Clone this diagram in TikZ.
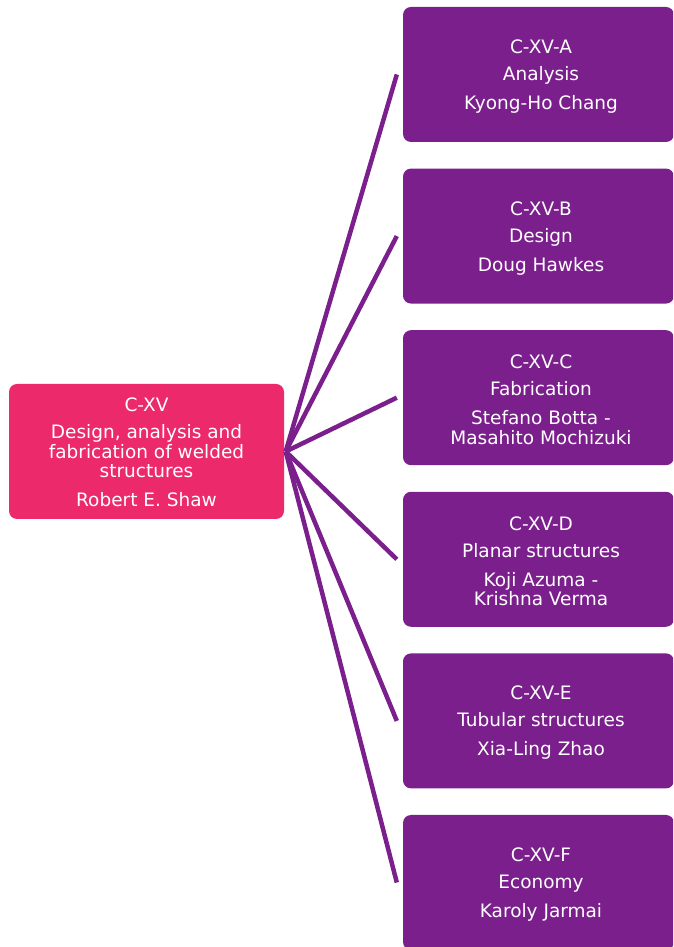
\documentclass[tikz,border=0pt]{standalone}
\usepackage{fontspec}
\setmainfont{DejaVu Sans}
\definecolor{pinkc}{RGB}{236,41,107}
\definecolor{purp}{RGB}{123,31,141}
\begin{document}
\begin{tikzpicture}[x=1pt,y=1pt,
  box/.style={rounded corners=8pt, minimum width=271pt, minimum height=135pt, inner sep=0pt},
  rootbox/.style={box, fill=pinkc, minimum width=275pt},
  leafbox/.style={box, fill=purp},
  boxtext/.style={text=white, align=center, inner sep=0pt,
    font=\fontsize{18.5}{19.5}\selectfont},
  link/.style={draw=purp, line width=4.5pt}]
\useasboundingbox (0,0) rectangle (673,947);
\clip (0,0) rectangle (673,947);
\node[rootbox] (r) at (146.5,495.5) {};
\node[boxtext] (rt) at ([yshift=-1pt]r.center) {C-XV\\[7.5pt]Design, analysis and\\fabrication of welded\\structures\\[9.5pt]Robert E. Shaw};
\node[leafbox] (a) at (538.5,872.5) {};
\node[leafbox] (b) at (538.5,710.9) {};
\node[leafbox] (c) at (538.5,549.3) {};
\node[leafbox] (d) at (538.5,387.7) {};
\node[leafbox] (e) at (538.5,226.1) {};
\node[leafbox] (f) at (538.5,64.5) {};
\node[boxtext] (at) at ([xshift=2.5pt,yshift=-2pt]a.center) {C-XV-A\\[7.5pt]Analysis\\[9.5pt]Kyong-Ho Chang};
\node[boxtext] (bt) at ([xshift=2.5pt,yshift=-2pt]b.center) {C-XV-B\\[7.5pt]Design\\[9.5pt]Doug Hawkes};
\node[boxtext] (ct) at ([xshift=2.5pt,yshift=-2pt]c.center) {C-XV-C\\[7.5pt]Fabrication\\[9.5pt]Stefano Botta -\\Masahito Mochizuki};
\node[boxtext] (dt) at ([xshift=2.5pt,yshift=-2pt]d.center) {C-XV-D\\[7.5pt]Planar structures\\[9.5pt]Koji Azuma -\\Krishna Verma};
\node[boxtext] (et) at ([xshift=2.5pt,yshift=-2pt]e.center) {C-XV-E\\[7.5pt]Tubular structures\\[9.5pt]Xia-Ling Zhao};
\node[boxtext] (ft) at ([xshift=2.5pt,yshift=-2pt]f.center) {C-XV-F\\[7.5pt]Economy\\[9.5pt]Karoly Jarmai};
\coordinate (r0) at ([xshift=1.5pt]r.east);
\foreach \n in {a,b,c,d,e,f}{
  \coordinate (\n0) at ([xshift=-6pt]\n.west);
  \draw[link] (r0) -- (\n0);
}
\end{tikzpicture}
\end{document}
